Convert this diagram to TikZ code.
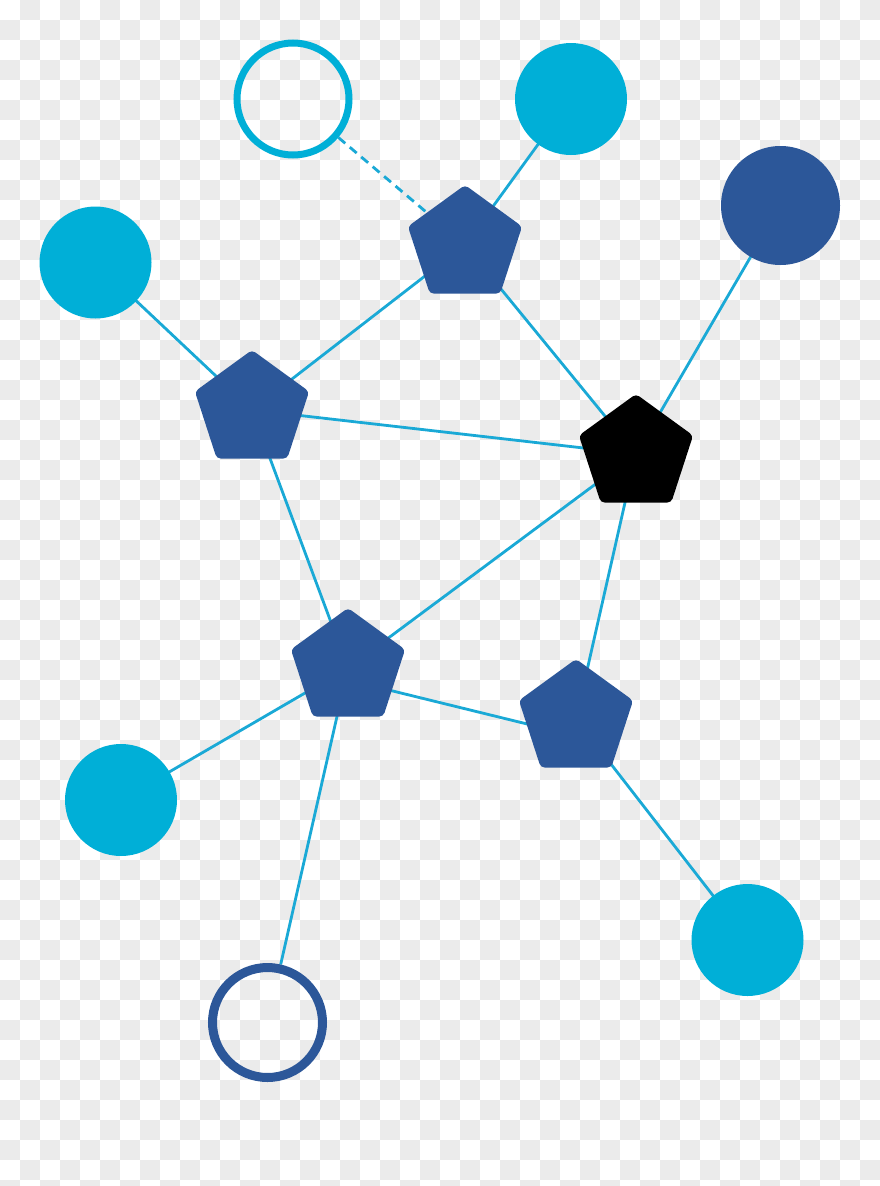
\documentclass[tikz,border=0pt]{standalone}
\usetikzlibrary{shapes.geometric,calc}
\definecolor{lblue}{HTML}{00AFD7}
\definecolor{dblue}{HTML}{2C5799}
\definecolor{edgec}{HTML}{1AA9D6}
\definecolor{checker}{HTML}{EBEBEB}
\pgfdeclarelayer{bg}
\pgfdeclarelayer{links}
\pgfsetlayers{bg,links,main}
\tikzset{
  pent/.style={regular polygon, regular polygon sides=5, minimum size=120pt, inner sep=0pt, outer sep=0pt, fill=dblue, rounded corners=4pt},
  blackpent/.style={pent, fill=black},
  lcirc/.style={circle, fill=lblue, inner sep=0pt, outer sep=0pt, minimum size=112pt},
  dcirc/.style={circle, fill=dblue, inner sep=0pt, outer sep=0pt, minimum size=119pt},
  ring/.style={circle, draw=lblue, line width=7pt, inner sep=0pt, minimum size=112pt},
  dring/.style={circle, draw=dblue, line width=9pt, inner sep=0pt, minimum size=110pt},
  link/.style={draw=edgec, line width=2.8pt},
  dlink/.style={link, dash pattern=on 9pt off 6pt}
}
\begin{document}
\begin{tikzpicture}[x=1pt,y=-1pt]
\useasboundingbox (0,0) rectangle (880,1186);
\begin{pgfonlayer}{bg}
\clip (0,0) rectangle (880,1186);
\fill[white] (0,0) rectangle (880,1186);
\foreach \j in {0,2,...,58} \foreach \i in {1,3,...,43} \fill[checker] (\i*20,\j*20) rectangle ++(20,20);
\foreach \j in {1,3,...,59} \foreach \i in {0,2,...,42} \fill[checker] (\i*20,\j*20) rectangle ++(20,20);
\end{pgfonlayer}
% circles
\node[ring] (rtop) at (293,99) {};
\node[lcirc] (ctr) at (571,99) {};
\node[dcirc] (dright) at (780.5,205.5) {};
\node[lcirc] (cleft) at (95.5,262.5) {};
\node[lcirc] (cll) at (121,800) {};
\node[lcirc] (clr) at (747.5,940) {};
\node[dring] (rbot) at (267.5,1022.5) {};
% pentagons
\node[pent] (p1) at (465,245) {};
\node[pent] (p2) at (252,410) {};
\node[blackpent] (pb) at (636,454) {};
\node[pent] (p4) at (348,668) {};
\node[pent] (p5) at (576,719) {};
\coordinate (p4r) at ($(p4.center)+(0,12)$);
\coordinate (p5l) at ($(p5.center)+(0,17)$);
% links
\begin{pgfonlayer}{links}
\draw[dlink] (rtop) -- (p1.center);
\draw[link] (ctr.center) -- (p1.center);
\draw[link] (cleft.center) -- (p2.center);
\draw[link] (p1.center) -- (p2.center);
\draw[link] (p1.center) -- (pb.center);
\draw[link] (dright.center) -- (pb.center);
\draw[link] (p2.center) -- (pb.center);
\draw[link] (p2.center) -- (p4.center);
\draw[link] (pb.center) -- (p4.center);
\draw[link] (pb.center) -- (p5.center);
\draw[link] (p4r) -- (p5l);
\draw[link] (p4.center) -- (cll.center);
\draw[link] (rbot) -- (p4.center);
\draw[link] (p5.center) -- (clr.center);
\end{pgfonlayer}
\end{tikzpicture}
\end{document}
